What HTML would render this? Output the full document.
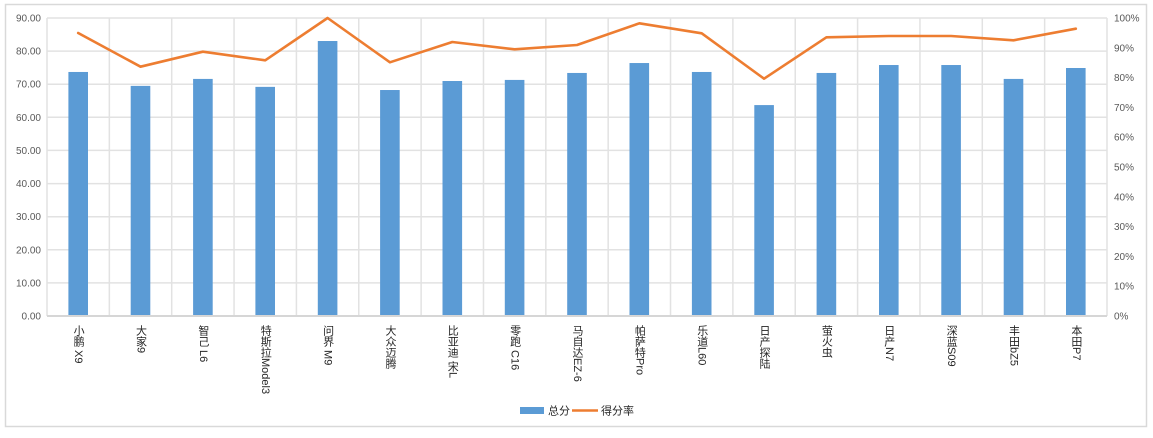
<!DOCTYPE html>
<html>
<head>
<meta charset="utf-8">
<style>
  html, body { margin:0; padding:0; background:#fff; }
  body { width:1153px; height:438px; position:relative; overflow:hidden;
         font-family:"Liberation Sans","Noto Sans CJK SC",sans-serif; }
  svg { position:absolute; left:0; top:0; }
  .xl { position:absolute; top:325px; width:14px; margin-left:-7px;
        writing-mode:vertical-rl; text-orientation:mixed;
        font-size:11px; line-height:14px; color:#262626; white-space:nowrap;
        font-family:"Liberation Sans","Noto Sans CJK SC",sans-serif; }
</style>
</head>
<body>
<svg width="1153" height="438" viewBox="0 0 1153 438" xmlns="http://www.w3.org/2000/svg">
  <rect x="5.5" y="4.5" width="1141" height="422" fill="#fff" stroke="#d9d9d9" stroke-width="1.5"/>
  <!-- horizontal gridlines -->
  <g stroke="#e2e2e2" stroke-width="1.5">
    <line x1="47" y1="18" x2="1107" y2="18"/>
    <line x1="47" y1="51.1" x2="1107" y2="51.1"/>
    <line x1="47" y1="84.2" x2="1107" y2="84.2"/>
    <line x1="47" y1="117.3" x2="1107" y2="117.3"/>
    <line x1="47" y1="150.4" x2="1107" y2="150.4"/>
    <line x1="47" y1="183.6" x2="1107" y2="183.6"/>
    <line x1="47" y1="216.7" x2="1107" y2="216.7"/>
    <line x1="47" y1="249.8" x2="1107" y2="249.8"/>
    <line x1="47" y1="282.9" x2="1107" y2="282.9"/>
  </g>
  <!-- vertical gridlines -->
  <g stroke="#e2e2e2" stroke-width="1.5">
    <line x1="47" y1="18" x2="47" y2="316"/>
    <line x1="109.35" y1="18" x2="109.35" y2="316"/>
    <line x1="171.71" y1="18" x2="171.71" y2="316"/>
    <line x1="234.06" y1="18" x2="234.06" y2="316"/>
    <line x1="296.41" y1="18" x2="296.41" y2="316"/>
    <line x1="358.76" y1="18" x2="358.76" y2="316"/>
    <line x1="421.12" y1="18" x2="421.12" y2="316"/>
    <line x1="483.47" y1="18" x2="483.47" y2="316"/>
    <line x1="545.82" y1="18" x2="545.82" y2="316"/>
    <line x1="608.18" y1="18" x2="608.18" y2="316"/>
    <line x1="670.53" y1="18" x2="670.53" y2="316"/>
    <line x1="732.88" y1="18" x2="732.88" y2="316"/>
    <line x1="795.24" y1="18" x2="795.24" y2="316"/>
    <line x1="857.59" y1="18" x2="857.59" y2="316"/>
    <line x1="919.94" y1="18" x2="919.94" y2="316"/>
    <line x1="982.29" y1="18" x2="982.29" y2="316"/>
    <line x1="1044.65" y1="18" x2="1044.65" y2="316"/>
    <line x1="1107" y1="18" x2="1107" y2="316"/>
  </g>
  <!-- bars -->
  <g fill="#5b9bd5">
    <rect x="68.4" y="71.97" width="19.6" height="244.03"/>
    <rect x="130.7" y="85.88" width="19.6" height="230.12"/>
    <rect x="193.1" y="78.92" width="19.6" height="237.08"/>
    <rect x="255.4" y="86.87" width="19.6" height="229.13"/>
    <rect x="317.8" y="41.01" width="19.6" height="274.99"/>
    <rect x="380.1" y="90.02" width="19.6" height="225.98"/>
    <rect x="442.5" y="81.01" width="19.6" height="234.99"/>
    <rect x="504.8" y="79.92" width="19.6" height="236.08"/>
    <rect x="567.2" y="72.96" width="19.6" height="243.04"/>
    <rect x="629.5" y="63.03" width="19.6" height="252.97"/>
    <rect x="691.9" y="71.97" width="19.6" height="244.03"/>
    <rect x="754.3" y="105.08" width="19.6" height="210.92"/>
    <rect x="816.6" y="72.96" width="19.6" height="243.04"/>
    <rect x="879.0" y="65.02" width="19.6" height="250.98"/>
    <rect x="941.3" y="65.02" width="19.6" height="250.98"/>
    <rect x="1003.7" y="78.92" width="19.6" height="237.08"/>
    <rect x="1066.0" y="68.0" width="19.6" height="248.0"/>
  </g>
  <!-- x axis line -->
  <line x1="47" y1="316" x2="1107" y2="316" stroke="#d6d6d6" stroke-width="2"/>
  <!-- line series -->
  <polyline fill="none" stroke="#ed7d31" stroke-width="2.6" stroke-linejoin="round" stroke-linecap="round"
    points="78.18,33 140.53,66.7 202.88,51.7 265.24,60.3 327.59,18 389.94,62.3 452.29,42 514.65,49.3 577.0,45 639.35,23.3 701.71,33.3 764.06,78.7 826.41,37.3 888.76,36 951.12,36 1013.47,40.3 1075.82,28.7"/>
  <!-- left axis labels -->
  <g font-family="Liberation Sans, sans-serif" font-size="10" fill="#595959" text-anchor="end">
    <text x="41" y="21.5">90.00</text>
    <text x="41" y="54.6">80.00</text>
    <text x="41" y="87.7">70.00</text>
    <text x="41" y="120.8">60.00</text>
    <text x="41" y="153.9">50.00</text>
    <text x="41" y="187.1">40.00</text>
    <text x="41" y="220.2">30.00</text>
    <text x="41" y="253.3">20.00</text>
    <text x="41" y="286.4">10.00</text>
    <text x="41" y="319.5">0.00</text>
  </g>
  <!-- right axis labels -->
  <g font-family="Liberation Sans, sans-serif" font-size="10" fill="#595959" text-anchor="start">
    <text x="1114" y="21.5">100%</text>
    <text x="1114" y="51.3">90%</text>
    <text x="1114" y="81.1">80%</text>
    <text x="1114" y="110.9">70%</text>
    <text x="1114" y="140.7">60%</text>
    <text x="1114" y="170.5">50%</text>
    <text x="1114" y="200.3">40%</text>
    <text x="1114" y="230.1">30%</text>
    <text x="1114" y="259.9">20%</text>
    <text x="1114" y="289.7">10%</text>
    <text x="1114" y="319.5">0%</text>
  </g>
  <!-- legend -->
  <rect x="520" y="407" width="24" height="7" fill="#5b9bd5"/>
  <text x="548" y="414.5" font-family="Liberation Sans, Noto Sans CJK SC, sans-serif" font-size="11" fill="#262626">总分</text>
  <line x1="572" y1="410.5" x2="598" y2="410.5" stroke="#ed7d31" stroke-width="2.6"/>
  <text x="601" y="414.5" font-family="Liberation Sans, Noto Sans CJK SC, sans-serif" font-size="11" fill="#262626">得分率</text>
</svg>
<div class="xl" style="left:78.18px">小鹏 X9</div>
<div class="xl" style="left:140.53px">大家9</div>
<div class="xl" style="left:202.88px">智己 L6</div>
<div class="xl" style="left:265.24px">特斯拉Model3</div>
<div class="xl" style="left:327.59px">问界 M9</div>
<div class="xl" style="left:389.94px">大众迈腾</div>
<div class="xl" style="left:452.29px">比亚迪 宋L</div>
<div class="xl" style="left:514.65px">零跑 C16</div>
<div class="xl" style="left:577.0px">马自达EZ-6</div>
<div class="xl" style="left:639.35px">帕萨特Pro</div>
<div class="xl" style="left:701.71px">乐道L60</div>
<div class="xl" style="left:764.06px">日产探陆</div>
<div class="xl" style="left:826.41px">萤火虫</div>
<div class="xl" style="left:888.76px">日产N7</div>
<div class="xl" style="left:951.12px">深蓝S09</div>
<div class="xl" style="left:1013.47px">丰田bZ5</div>
<div class="xl" style="left:1075.82px">本田P7</div>
</body>
</html>
